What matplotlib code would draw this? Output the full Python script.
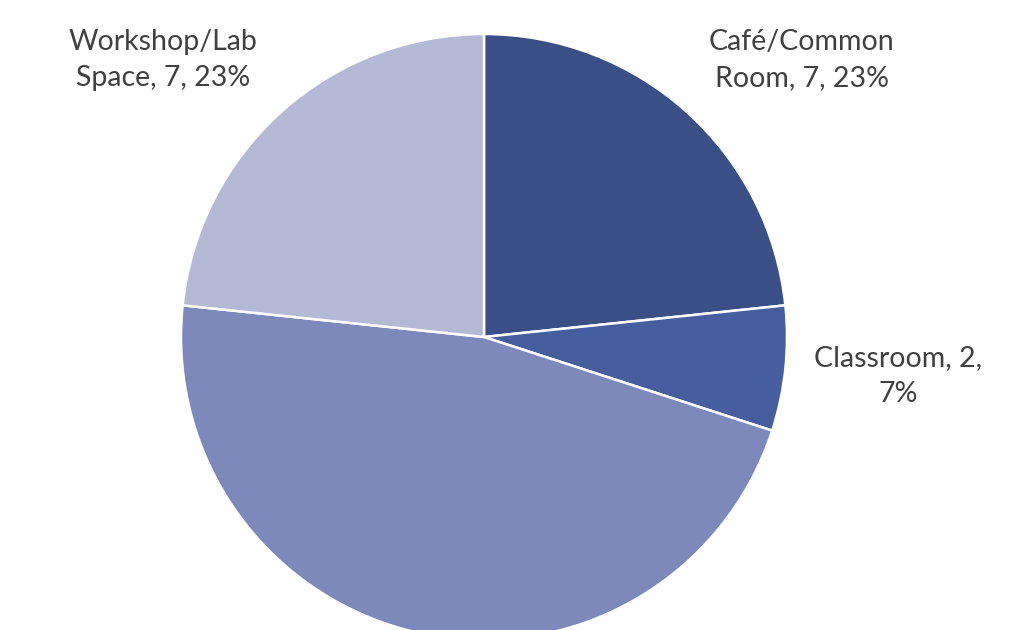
import matplotlib
matplotlib.use("Agg")
from matplotlib import pyplot as plt

# Data (the big slice's label is cut off in the reference)
categories = ['Café/Common\nRoom', 'Classroom, 2,', 'Other', 'Workshop/Lab\nSpace']
counts = [7, 2, 14, 7]
colors = ['#3a4f86', '#465e9e', '#7c89ba', '#b4b9d5']

plt.rcParams['font.family'] = ['Lato', 'DejaVu Sans']

W, H = 1030, 630
cx, cy, r = 484, 337, 303

fig = plt.figure(figsize=(W / 100, H / 100), dpi=100)
ax = fig.add_axes([0, 0, 1, 1])

ax.pie(counts, colors=colors, startangle=90, counterclock=False,
       radius=1, center=(0, 0),
       wedgeprops=dict(edgecolor='white', linewidth=1.8))

# axis limits in units of radius so the pie sits where it does in the picture
ax.set_xlim(-cx / r, (W - cx) / r)
ax.set_ylim(-(H - cy) / r, cy / r)
ax.set_aspect('auto')
ax.axis('off')

total = sum(counts)
label_text = [
    f'Café/Common\nRoom, {counts[0]}, {round(100 * counts[0] / total)}%',
    f'Classroom, {counts[1]},\n{round(100 * counts[1] / total)}%',
    None,
    f'Workshop/Lab\nSpace, {counts[3]}, {round(100 * counts[3] / total)}%',
]
# label centres in pixels (measured on the reference)
label_pos = [(802, 60), (898, 376), None, (163, 60)]

for txt, pos in zip(label_text, label_pos):
    if txt is None:
        continue
    fig.text(pos[0] / W, 1 - pos[1] / H, txt, ha='center', va='center',
             fontsize=20.5, color='#404040', linespacing=1.45)

fig.savefig('out.png', dpi=100)
